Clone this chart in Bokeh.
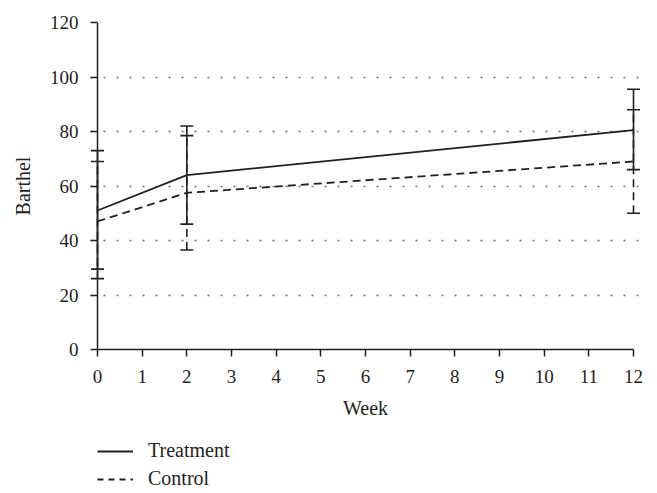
from bokeh.plotting import figure
from bokeh.layouts import column
from bokeh.models import (ColumnDataSource, Range1d, FixedTicker, Whisker, TeeHead,
                          Legend, LegendItem, Span)
from bokeh.embed import file_html
from bokeh.resources import INLINE

# ---- data ----
weeks = [0, 2, 12]
treatment_mean = [51.0, 64.0, 80.5]
treatment_upper = [73.0, 82.0, 95.5]
treatment_lower = [29.5, 46.0, 66.0]
control_mean = [47.0, 57.5, 69.0]
control_upper = [69.0, 78.5, 88.0]
control_lower = [26.0, 36.5, 50.0]
x_ticks = list(range(0, 13))
y_ticks = [0, 20, 40, 60, 80, 100, 120]
grid_ticks = [20, 40, 60, 80, 100, 120]
series_names = ["Treatment", "Control"]

INK = "#231f20"
FONT = "Liberation Serif"
PAD = 7 / (536 / 12)   # room for the error-bar caps at weeks 0 and 12
DASH = "8 5"

src_t = ColumnDataSource(dict(x=weeks, y=treatment_mean, up=treatment_upper, lo=treatment_lower))
src_c = ColumnDataSource(dict(x=weeks, y=control_mean, up=control_upper, lo=control_lower))

p = figure(width=657, height=430, output_backend="svg", toolbar_location=None,
           x_range=Range1d(-PAD, 12 + PAD), y_range=Range1d(0, 120),
           min_border_left=90, min_border_right=17, min_border_top=22, min_border_bottom=81)
p.outline_line_color = None
p.background_fill_color = "white"

# grid
p.xgrid.visible = False
p.ygrid.ticker = FixedTicker(ticks=grid_ticks)
p.ygrid.grid_line_color = "#6d6e70"
p.ygrid.grid_line_width = 1.6
p.ygrid.grid_line_dash = "2 11"
p.ygrid.bounds = (0, 12)

# axes
for ax in (p.xaxis[0], p.yaxis[0]):
    ax.axis_line_color = INK
    ax.axis_line_width = 1.5
    ax.major_tick_line_color = INK
    ax.major_tick_line_width = 1.5
    ax.minor_tick_line_color = None
    ax.major_label_text_font = FONT
    ax.major_label_text_font_size = "19px"
    ax.major_label_text_color = INK
    ax.axis_label_text_font = FONT
    ax.axis_label_text_font_size = "20px"
    ax.axis_label_text_font_style = "normal"
    ax.axis_label_text_color = INK

p.xaxis.ticker = FixedTicker(ticks=x_ticks)
p.xaxis.bounds = (0, 12)
p.xaxis.major_tick_out = 7
p.xaxis.major_tick_in = 0
p.xaxis.axis_label = "Week"
p.xaxis.major_label_standoff = 13
p.xaxis.axis_label_standoff = 11

# y axis sits at the frame edge; its ticks reach in to x = 0 where the axis line is drawn
p.yaxis.ticker = FixedTicker(ticks=y_ticks)
p.yaxis.axis_line_color = None
p.yaxis.major_tick_out = 0
p.yaxis.major_tick_in = 7
p.yaxis.axis_label = "Barthel"
p.yaxis.major_label_standoff = 12
p.yaxis.axis_label_standoff = 13
p.add_layout(Span(location=0, dimension="height", line_color=INK, line_width=1.5))

# error bars (control first, treatment on top)
wc = Whisker(base="x", upper="up", lower="lo", source=src_c, dimension="height",
             line_color=INK, line_width=1.6, line_dash=DASH,
             upper_head=TeeHead(size=13, line_color=INK, line_width=1.6),
             lower_head=TeeHead(size=13, line_color=INK, line_width=1.6))
wt = Whisker(base="x", upper="up", lower="lo", source=src_t, dimension="height",
             line_color=INK, line_width=1.6,
             upper_head=TeeHead(size=13, line_color=INK, line_width=1.6),
             lower_head=TeeHead(size=13, line_color=INK, line_width=1.6))
p.add_layout(wc)
p.add_layout(wt)

p.line("x", "y", source=src_c, line_color=INK, line_width=1.8, line_dash=DASH)
p.line("x", "y", source=src_t, line_color=INK, line_width=1.8)

# ---- legend strip below the chart (its lines hold the same data, outside its view) ----
lg = figure(width=657, height=63, output_backend="svg", toolbar_location=None,
            x_range=Range1d(100, 101), y_range=Range1d(1000, 1001),
            x_axis_location=None, y_axis_location=None,
            min_border_left=0, min_border_right=0, min_border_top=0, min_border_bottom=0)
lg.grid.visible = False
lg.outline_line_color = None
lt = lg.line("x", "y", source=src_t, line_color=INK, line_width=1.8)
lc = lg.line("x", "y", source=src_c, line_color=INK, line_width=1.8, line_dash="6 5")

legend = Legend(items=[LegendItem(label=series_names[0], renderers=[lt]),
                       LegendItem(label=series_names[1], renderers=[lc])],
                location=(7, 3), orientation="vertical",
                background_fill_alpha=0, border_line_alpha=0,
                padding=0, margin=0, spacing=5,
                glyph_width=36, glyph_height=22, label_height=22,
                label_standoff=15,
                label_text_font=FONT, label_text_font_size="20px",
                label_text_color=INK)
lg.add_layout(legend, "center")

open("out.html", "w").write(file_html(column(p, lg, spacing=0), INLINE))
